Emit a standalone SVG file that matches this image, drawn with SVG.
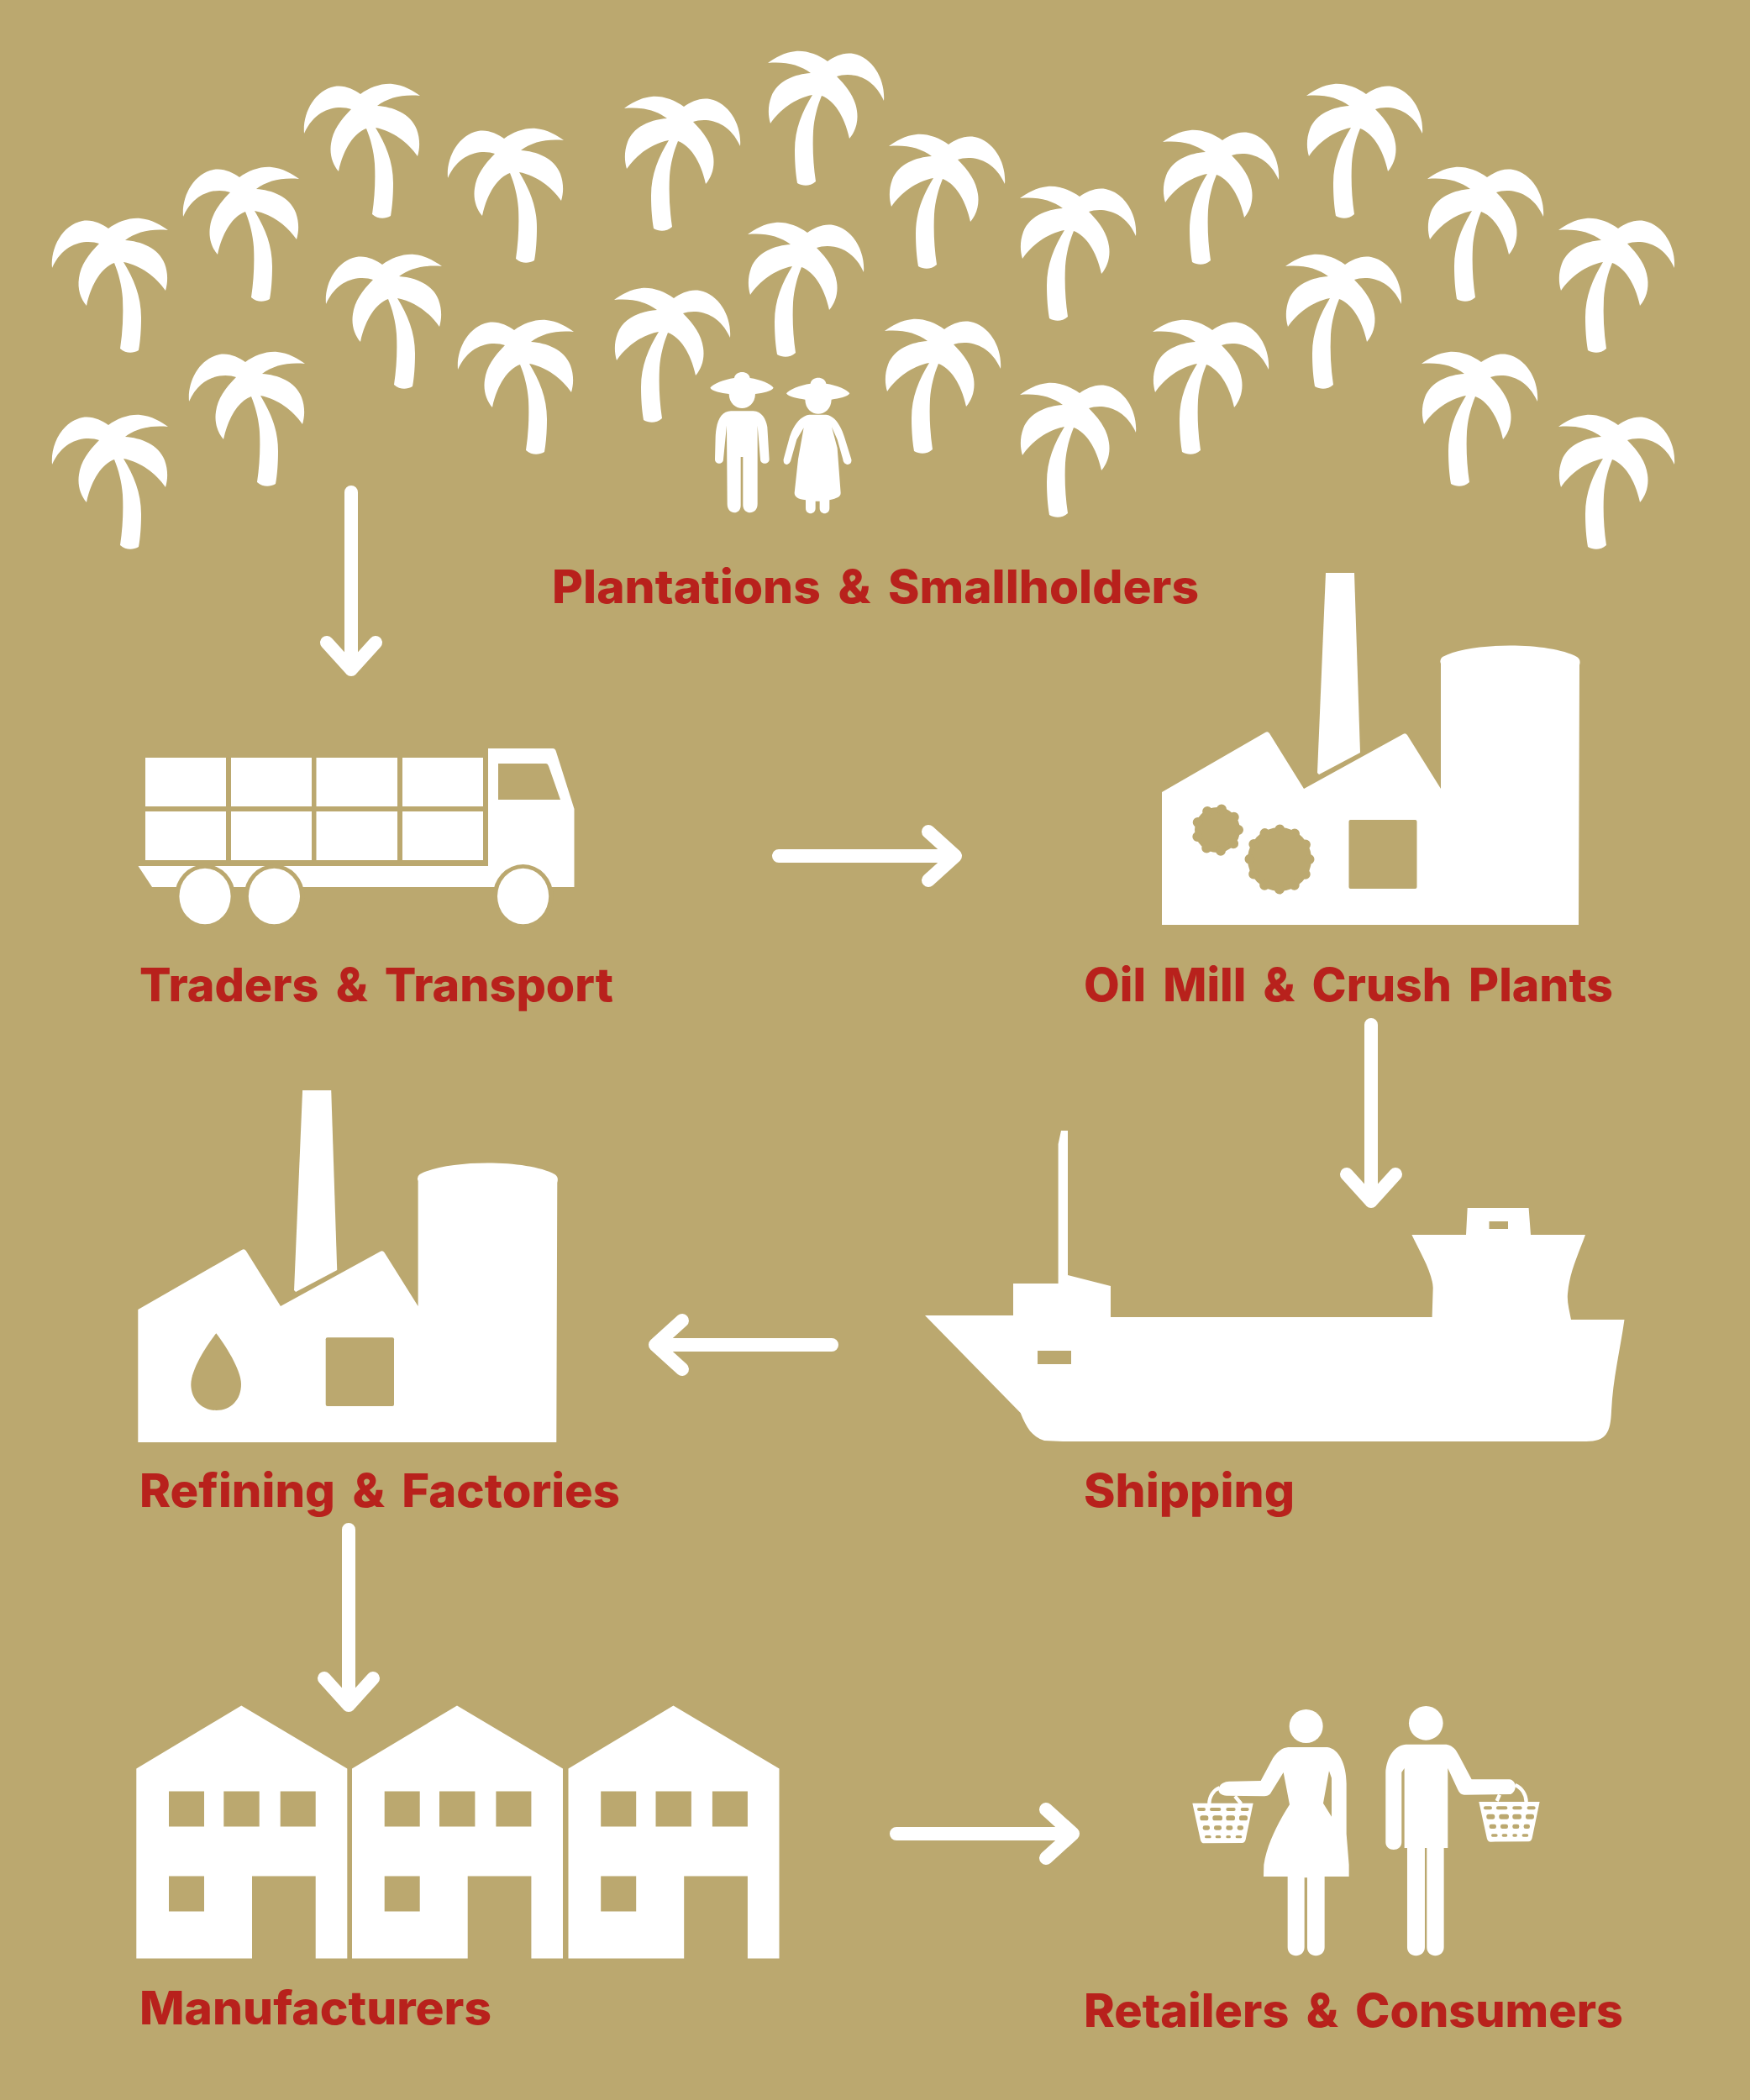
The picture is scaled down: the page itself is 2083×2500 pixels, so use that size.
<svg xmlns="http://www.w3.org/2000/svg" width="2083" height="2500" viewBox="0 0 2083 2500">
<style>
.w{fill:#fff}
.g{fill:#bba86f}
.lbl{font-family:"Inter","Lato","Liberation Sans",sans-serif;font-weight:800;font-size:55px;fill:#b8211c;font-variant-ligatures:none;word-spacing:8px}
.arrow{fill:none;stroke:#fff;stroke-width:16;stroke-linecap:round;stroke-linejoin:round}
.gear{fill:none;stroke:#bba86f;stroke-width:12;stroke-linecap:round}
.hole{fill:#bba86f}
</style>
<defs>
<path id="palm" class="w" d="M0,59 C-2,35 12,8 36,3 C48,1 58,6 67,12 C78,4 92,-1 105,0 C118,1 130,8 138,14 C118,12 100,16 87,26 C105,27 127,35 134,54 C138,65 138,76 135,86 C124,70 106,56 85,52 C97,72 106,92 106,118 C106,132 105,146 103,157 C96,161 88,161 81,155 C84,135 85,115 84,95 C83,80 79,65 74,53 C60,58 47,76 41,104 C34,96 30,84 32,71 C34,56 43,43 56,30 C42,25 14,27 0,59 Z"/>
<g id="factory">
<path class="w" d="M1578,682 L1612,682 L1619,896 L1570,922 L1568,920 Z"/>
<path class="w" d="M1383,943 L1506,872 Q1509,870 1511,873 L1552,939 L1670,874 Q1673,872 1675,875 L1715,939 L1715,790 Q1713,785 1717,782 C1750,764 1845,764 1877,782 Q1882,785 1880,792 L1879,1101 L1383,1101 Z"/>
</g>
<path id="house" class="w" fill-rule="evenodd" d="M0,75 L125,0 L251,75 L251,301 L213.400,301 L213.400,203 L137.700,203 L137.700,301 L0,301 Z M38.700,102 L38.700,144 L80.700,144 L80.700,102 Z M104,102 L104,144 L146.400,144 L146.400,102 Z M171.400,102 L171.400,144 L213.400,144 L213.400,102 Z M38.700,203 L38.700,245 L80.700,245 L80.700,203 Z"/>
<path id="hat" class="w" d="M136,185 C145,172 185,155 222,150 C226,122 274,122 278,150 C315,155 355,172 362,185 C355,197 325,203 297,207 C295,275 205,275 203,207 C175,203 143,197 136,185 Z"/>
<g id="basket">
<path class="w" d="M118,410 L335,410 L308,540 Q305,552 295,552 L160,553 Q150,553 147,542 Z"/>
<rect class="hole" x="135" y="426" width="30" height="12" rx="6"/><rect class="hole" x="180" y="426" width="40" height="12" rx="6"/><rect class="hole" x="238" y="426" width="34" height="12" rx="6"/><rect class="hole" x="290" y="426" width="30" height="12" rx="6"/>
<rect class="hole" x="145" y="454" width="30" height="18" rx="8"/><rect class="hole" x="190" y="454" width="35" height="18" rx="8"/><rect class="hole" x="238" y="454" width="32" height="18" rx="8"/><rect class="hole" x="285" y="454" width="30" height="18" rx="8"/>
<rect class="hole" x="155" y="490" width="25" height="16" rx="7"/><rect class="hole" x="195" y="490" width="27" height="16" rx="7"/><rect class="hole" x="238" y="490" width="24" height="16" rx="7"/><rect class="hole" x="278" y="490" width="22" height="16" rx="7"/>
<rect class="hole" x="162" y="525" width="23" height="10" rx="5"/><rect class="hole" x="200" y="525" width="20" height="10" rx="5"/><rect class="hole" x="238" y="525" width="17" height="10" rx="5"/><rect class="hole" x="272" y="525" width="23" height="10" rx="5"/>
</g>
</defs>
<rect class="g" width="2083" height="2500"/>
<g id="plantations">
<use href="#palm" x="62" y="260"/><use href="#palm" x="218" y="199"/><use href="#palm" x="362" y="100"/><use href="#palm" x="533" y="153"/>
<use href="#palm" x="388" y="303"/><use href="#palm" x="545" y="381"/><use href="#palm" x="225" y="419"/><use href="#palm" x="62" y="494"/>
<use href="#palm" transform="translate(881 115) scale(-1 1)"/><use href="#palm" transform="translate(1052 61) scale(-1 1)"/><use href="#palm" transform="translate(1196 160) scale(-1 1)"/><use href="#palm" transform="translate(1352 222) scale(-1 1)"/>
<use href="#palm" transform="translate(1522 155) scale(-1 1)"/><use href="#palm" transform="translate(1693 100) scale(-1 1)"/><use href="#palm" transform="translate(1837 199) scale(-1 1)"/><use href="#palm" transform="translate(1993 260) scale(-1 1)"/>
<use href="#palm" transform="translate(869 343) scale(-1 1)"/><use href="#palm" transform="translate(1028 265) scale(-1 1)"/><use href="#palm" transform="translate(1191 380) scale(-1 1)"/><use href="#palm" transform="translate(1510 381) scale(-1 1)"/>
<use href="#palm" transform="translate(1668 303) scale(-1 1)"/><use href="#palm" transform="translate(1352 456) scale(-1 1)"/><use href="#palm" transform="translate(1830 419) scale(-1 1)"/><use href="#palm" transform="translate(1993 494) scale(-1 1)"/>
<g transform="translate(800 400) scale(.3333)">
<use href="#hat"/>
<path class="w" d="M210,268 L290,268 C320,270 335,295 340,325 L347,440 C347,460 315,460 315,440 L305,320 L305,600 C305,640 255,640 253,605 L253,432 L245,432 L245,605 C245,640 197,640 197,600 L195,320 L183,440 C183,460 153,460 153,440 L155,360 C158,300 175,270 210,268 Z"/>
<use href="#hat" transform="translate(272 20)"/>
<path class="w" d="M490,281 L550,281 C580,285 600,315 615,360 L640,440 C645,465 612,465 610,440 L590,370 L570,325 L590,400 L602,560 C602,575 590,578 562,586 L562,615 C562,640 527,640 527,615 L527,590 L512,590 L512,615 C512,640 477,640 477,615 L477,586 C450,582 437,575 437,560 L450,440 L470,328 L445,370 L425,440 C420,465 395,465 398,440 L420,360 C435,315 460,285 490,281 Z"/>
</g>
<text class="lbl" x="657" y="718" textLength="770" lengthAdjust="spacingAndGlyphs">Plantations &amp; Smallholders</text>
</g>
<g id="traders">
<path class="w" d="M173,902H269V960H173Z M275,902H371V960H275Z M376.500,902H473V960H376.500Z M479,902H575V960H479Z M173,966H269V1024H173Z M275,966H371V1024H275Z M376.500,966H473V1024H376.500Z M479,966H575V1024H479Z"/>
<path class="w" d="M164.500,1031 L581,1031 L581,891 L658,891 Q661,891 662,895 L683.500,963 L683.500,1056 L181,1056 Z"/>
<path class="g" d="M593,909 L650,909 Q652,909 653,912 L667,952 L593,952 Z"/>
<ellipse class="g" cx="244" cy="1067" rx="36" ry="38"/><ellipse class="g" cx="326.400" cy="1067" rx="36" ry="38"/><ellipse class="g" cx="622.600" cy="1067" rx="36" ry="38"/>
<ellipse class="w" cx="244" cy="1067" rx="30.600" ry="33.300"/><ellipse class="w" cx="326.400" cy="1067" rx="30.600" ry="33.300"/><ellipse class="w" cx="622.600" cy="1067" rx="30.600" ry="33.300"/>
<text class="lbl" x="166" y="1192" textLength="564" lengthAdjust="spacingAndGlyphs">Traders &amp; Transport</text>
</g>
<g id="oil-mill">
<use href="#factory"/>
<rect class="g" x="1605.500" y="976" width="81" height="82" rx="2"/>
<circle class="g" cx="1449" cy="988" r="27"/>
<circle class="gear" cx="1449" cy="988" r="25" stroke-dasharray="0 17.453"/>
<circle class="g" cx="1523" cy="1023" r="38"/>
<circle class="gear" cx="1523" cy="1023" r="35.500" stroke-dasharray="0 18.588"/>
<text class="lbl" x="1290" y="1192" textLength="630" lengthAdjust="spacingAndGlyphs">Oil Mill &amp; Crush Plants</text>
</g>
<g id="shipping">
<path class="w" fill-rule="evenodd" d="M1263,1346 L1271,1346 L1271,1518 L1322,1531 L1322,1568 L1704.600,1568 L1705.700,1533 C1705,1515 1690,1490 1680.400,1470 L1745,1470 L1746.700,1438 L1819.600,1438 L1822,1470 L1887,1470 C1878,1495 1868,1515 1866,1540 C1865,1550 1868,1560 1870,1571 L1933.500,1571 C1928,1610 1920,1640 1918,1680 C1917,1705 1912,1716 1888,1716 L1265,1716 L1243,1715 C1228,1710 1222,1700 1214.700,1682 L1101,1566 L1206,1566 L1206,1528 L1259.600,1528 L1259.600,1362 Z M1235,1608 L1235,1624 L1275,1624 L1275,1608 Z M1772.500,1454 L1772.500,1463 L1795,1463 L1795,1454 Z"/>
<text class="lbl" x="1290" y="1794" textLength="251" lengthAdjust="spacingAndGlyphs">Shipping</text>
</g>
<g id="refining">
<use href="#factory" transform="translate(164.300 616) scale(1.004 1) translate(-1383 0)"/>
<rect class="g" x="387.700" y="1592.300" width="81.300" height="81.700" rx="2"/>
<path class="g" d="M257.300,1587.300 C247,1600 227.300,1630 227.300,1648 C227.300,1666 240,1679 257.300,1679 C275,1679 287,1666 287,1648 C287,1630 267,1600 257.300,1587.300 Z"/>
<text class="lbl" x="166" y="1794" textLength="572" lengthAdjust="spacingAndGlyphs">Refining &amp; Factories</text>
</g>
<g id="manufacturers">
<use href="#house" transform="translate(162.300 2030.500)"/>
<use href="#house" transform="translate(419 2030.500)"/>
<use href="#house" transform="translate(676.500 2030.500)"/>
<text class="lbl" x="166" y="2410" textLength="419" lengthAdjust="spacingAndGlyphs">Manufacturers</text>
</g>
<g id="retailers">
<g transform="translate(1380 2010) scale(.3333)">
<circle class="w" cx="524" cy="135" r="60"/><circle class="w" cx="952" cy="124" r="61"/>
<path class="w" fill-rule="evenodd" d="M460,210 L600,210 C640,215 668,270 668,340 L668,520 L677,630 L677,672 L590,672 L590,925 C590,965 528,965 528,925 L528,676 L518,676 L518,925 C518,965 458,965 458,925 L458,672 L372,672 L373,630 C385,550 430,470 465,415 L443,300 L400,370 C395,382 385,385 370,385 L240,383 C215,383 205,365 215,350 C222,335 240,332 255,332 L362,330 L405,250 C420,225 440,212 460,210 Z M606,295 L585,410 L615,458 L615,320 Z"/>
<path class="w" d="M880,200 L1025,200 C1050,205 1060,220 1070,240 L1115,325 L1250,325 C1275,328 1280,365 1255,378 L1090,380 C1075,380 1070,370 1065,360 L1030,285 L1030,570 L1016,570 L1016,925 C1016,965 955,965 955,925 L955,570 L948,570 L948,925 C948,965 885,965 885,925 L885,570 L875,570 L875,285 L865,300 L865,550 C865,585 808,585 808,550 L808,300 C810,260 830,205 880,200 Z"/>
<use href="#basket"/>
<use href="#basket" transform="translate(1023 -5)"/>
<path d="M178,412 C178,385 195,362 215,355 M270,385 L292,412 M1205,402 L1215,380 M1270,345 C1295,355 1310,380 1310,405" fill="none" stroke="#fff" stroke-width="13"/>
</g>
<text class="lbl" x="1290" y="2413" textLength="642" lengthAdjust="spacingAndGlyphs">Retailers &amp; Consumers</text>
</g>
<g id="connectors">
<path class="arrow" d="M418,586 V797 M389,765 L418,797 L447,765"/>
<path class="arrow" d="M927,1019 H1137 M1105,990 L1137,1019 L1105,1048"/>
<path class="arrow" d="M1632,1220 V1430 M1603,1398 L1632,1430 L1661,1398"/>
<path class="arrow" d="M990,1601 H780 M812,1572 L780,1601 L812,1630"/>
<path class="arrow" d="M415,1821 V2030 M386,1998 L415,2030 L444,1998"/>
<path class="arrow" d="M1067,2183 H1277 M1245,2154 L1277,2183 L1245,2212"/>
</g>
</svg>
